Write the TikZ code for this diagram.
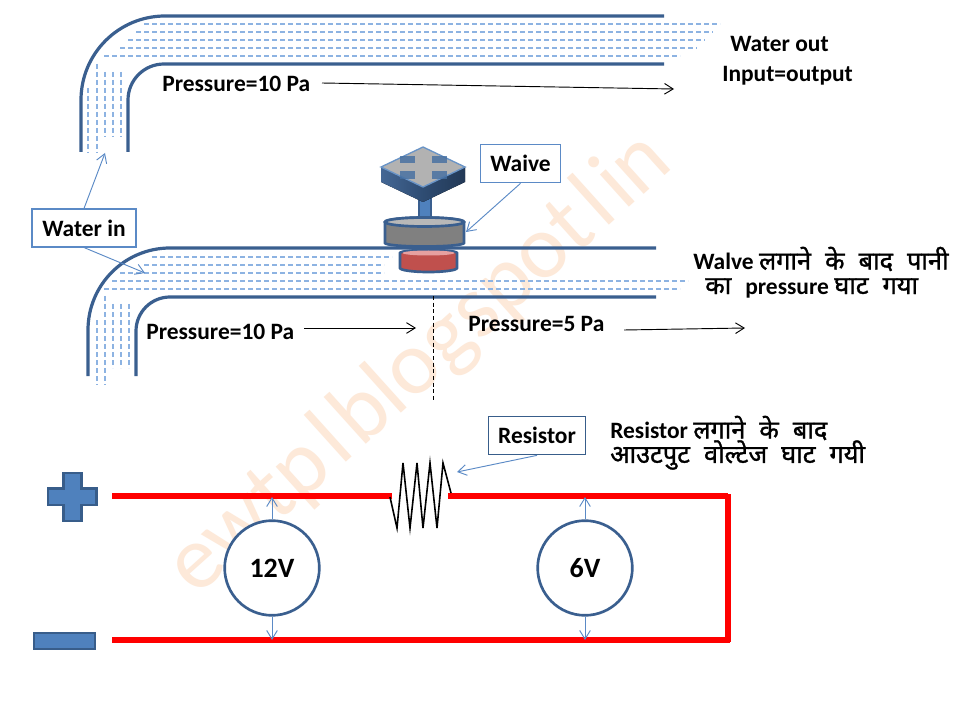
\documentclass[tikz,border=0pt]{standalone}
\usepackage{fontspec}
\setmainfont{Carlito}
\newfontfamily\hindifont[Script=Devanagari,FakeBold=1.2]{Noto Sans}
\newcommand\hi[1]{{\hindifont\fontsize{19}{20}\selectfont #1}}
\newfontfamily\wm{Carlito}
\usetikzlibrary{arrows.meta}
\definecolor{pipe}{HTML}{3A5F8F}
\definecolor{dash}{HTML}{8DB3E2}
\definecolor{lead}{HTML}{5B8AC6}
\definecolor{fillb}{HTML}{4F81BD}
\definecolor{edgeb}{HTML}{385D8A}
\definecolor{wmark}{HTML}{FDE9D9}
\definecolor{redbody}{HTML}{C0504D}
\definecolor{redtop}{HTML}{E6A0A0}
\newcommand\gapw{\hspace{10.5pt}}
\tikzset{
 pipeline/.style={draw=pipe,line width=2.4pt},
 flow/.style={draw=dash,line width=0.8pt,dash pattern=on 3.4pt off 2.6pt},
 leader/.style={draw=lead,line width=0.7pt,-{Straight Barb[length=6.5pt,width=8pt]}},
 pointer/.style={draw=black,line width=0.7pt,-{Straight Barb[length=6.5pt,width=8pt]}},
 hlabel/.style={font=\bfseries\fontsize{17.6}{20}\selectfont,text=black,inner sep=0pt,anchor=west},
 callout/.style={draw=lead,fill=white,line width=0.8pt,inner sep=0pt,font=\bfseries\fontsize{17.6}{20}\selectfont},
 wire/.style={draw=red,line width=4.5pt},
 ring/.style={circle,draw=pipe,line width=2pt,fill=white,minimum size=71pt,inner sep=0pt,font=\bfseries\fontsize{21}{24}\selectfont},
 sign/.style={fill=fillb,draw=edgeb,line width=1.6pt},
}
\begin{document}
\begin{tikzpicture}[x=0.75pt,y=-0.75pt]
\useasboundingbox (0,0) rectangle (960,720);
\fill[white] (0,0) rectangle (960,720);
% watermark
\node[rotate=42,text=wmark,font=\wm\fontsize{68}{72}\selectfont,inner sep=0pt] (mark) at (420,364) {ewtp\hspace{6pt}l\hspace{4pt}blogspot\hspace{6pt}l\hspace{4pt}in};
% top pipe
\draw[pipeline] (81,152) -- (81,100) arc[start angle=180,end angle=270,x radius=84,y radius=84] -- (664,16);
\draw[pipeline] (128,152) -- (128,100) arc[start angle=180,end angle=270,x radius=36,y radius=36] -- (664,64);
\foreach \xa/\ya/\xb in {144/24/720,136/32/713,128/40/705,120/48/697,104/56/680}
  \draw[flow] (\xa,\ya) -- (\xb,\ya);
\foreach \xa/\ya/\yb in {88/88/153,97/64/153,105/72/137,113/72/137,121/72/137}
  \draw[flow] (\xa,\ya) -- (\xa,\yb);
% lower pipe
\draw[pipeline] (88,376) -- (88,330) arc[start angle=180,end angle=270,x radius=82,y radius=82] -- (656,248);
\draw[pipeline] (136,376) -- (136,331) arc[start angle=180,end angle=270,x radius=34,y radius=34] -- (656,297);
\foreach \xa/\ya/\xb in {152/257/392,144/265/384,120/273/384,112/281/688,104/289/680}
  \draw[flow] (\xa,\ya) -- (\xb,\ya);
\foreach \xa/\ya/\yb in {97/320/385,105/296/385,113/304/368,121/304/368,129/304/368}
  \draw[flow] (\xa,\ya) -- (\xa,\yb);
% valve
\draw[pipe,line width=1.6pt,fill=fillb] (419,198) rectangle (431,219);
\fill[left color=pipe!95,right color=pipe!80!black] (381,167) -- (423,187) -- (423,202) -- (381,182) -- cycle;
\fill[left color=pipe!80!black,right color=pipe!60!black] (423,187) -- (465,167) -- (465,182) -- (423,202) -- cycle;
\draw[draw=fillb!85,line width=1pt,fill=black!30] (423,147) -- (465,167) -- (423,187) -- (381,167) -- cycle;
\foreach \px/\py in {407.5/159.5,439.5/159.5,407.5/175,439.5/175}
  \fill[fillb!85!black,opacity=.8] (\px-7.5,\py-3.8) rectangle (\px+7.5,\py+3.8);
\draw[pipe,line width=2pt,fill=redbody] (400,253) -- (400,268) arc[start angle=180,end angle=0,x radius=28.5,y radius=4] -- (457,253) arc[start angle=0,end angle=-180,x radius=28.5,y radius=3] -- cycle;
\fill[redtop] (428.5,253) ellipse[x radius=26,y radius=2.5];
\draw[pipe,line width=2pt,fill=black!50] (385,222) -- (385,243) arc[start angle=180,end angle=0,x radius=39.5,y radius=3.5] -- (464,222) arc[start angle=0,end angle=-180,x radius=39.5,y radius=4.5] -- cycle;
\draw[pipe,line width=2pt,fill=black!28] (424.5,222) ellipse[x radius=39.5,y radius=4.5];
% callouts
\node[callout,minimum width=60.5pt,minimum height=29pt] (waive) at (520.5,163.5) {Waive};
\coordinate (waivetip) at (466,232);
\draw[leader] (waive.south) -- (waivetip);
\node[callout,minimum width=78pt,minimum height=28.5pt] (waterin) at (84,228) {Water in};
\coordinate (intop) at (105,153);
\coordinate (inlow) at (145,273);
\draw[leader] (waterin.north) -- (intop);
\draw[leader] (waterin.south) -- (inlow);
\node[callout,draw=edgeb,minimum width=73pt,minimum height=29pt] (resbox) at (537,435.5) {Resistor};
\coordinate (restip) at (457,472);
\draw[leader] (resbox.south) -- (restip);
% texts top
\node[hlabel] (p1) at (162,84) {Pressure=10 Pa};
\node[hlabel] (wo) at (730,44) {Water out};
\node[hlabel] (io) at (722,76) {Input=output};
\coordinate (p1a) at (322,83); \coordinate (p1b) at (674,89);
\draw[pointer] (p1a) -- (p1b);
\node[hlabel] (p2) at (146,332) {Pressure=10 Pa};
\node[hlabel] (p3) at (468,324) {Pressure=5 Pa};
\coordinate (p2a) at (304,328); \coordinate (p2b) at (416,328);
\coordinate (p3a) at (624,330); \coordinate (p3b) at (745,328);
\draw[pointer] (p2a) -- (p2b);
\draw[pointer] (p3a) -- (p3b);
\coordinate (da) at (433,296); \coordinate (db) at (433,400);
\draw[black,line width=0.7pt,dash pattern=on 3pt off 2pt] (da) -- (db);
\node[hlabel] (h1) at (693,259) {Walve \hi{लगाने\gapw के\gapw बाद\gapw पानी}};
\node[hlabel] (h2) at (705,288) {\hi{का}\gapw pressure \hi{घाट\gapw गया}};
\node[hlabel] (h3) at (610,428) {Resistor \hi{लगाने\gapw के\gapw बाद}};
\node[hlabel] (h4) at (610,455) {\hi{आउटपुट\gapw वोल्टेज\gapw घाट\gapw गयी}};
% circuit
\draw[wire] (112,496) -- (392,496);
\draw[wire] (448,496) -- (728,496) (728,494) -- (728,642);
\draw[wire] (112,640) -- (730,640);
\draw[black,line width=1.2pt,line join=miter] (390,497) -- (397,528) -- (403,463) -- (410,528) -- (417,463) -- (423,528) -- (430,463) -- (437,528) -- (443,463) -- (451,493);
\node[ring] (c1) at (272,568) {12V};
\node[ring] (c2) at (585,568) {6V};
\coordinate (c1t) at (272,497); \coordinate (c1b) at (272,640);
\coordinate (c2t) at (585,497); \coordinate (c2b) at (585,640);
\draw[leader] (c1.north) -- (c1t);
\draw[leader] (c1.south) -- (c1b);
\draw[leader] (c2.north) -- (c2t);
\draw[leader] (c2.south) -- (c2b);
\draw[sign] (63.5,473) -- (81.5,473) -- (81.5,488.5) -- (96.5,488.5) -- (96.5,505) -- (81.5,505) -- (81.5,521) -- (63.5,521) -- (63.5,505) -- (48,505) -- (48,488.5) -- (63.5,488.5) -- cycle;
\draw[sign] (34,633) rectangle (95,649);
\end{tikzpicture}
\end{document}
